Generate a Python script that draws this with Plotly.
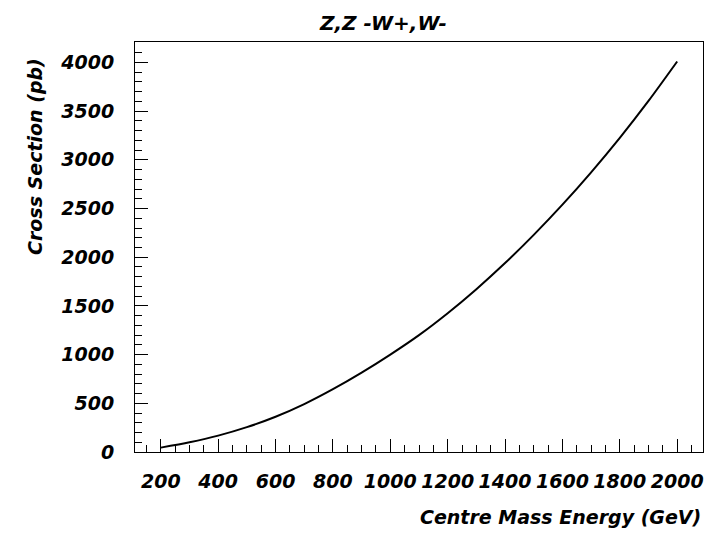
import plotly.graph_objects as go

energy = [200, 300, 400, 500, 600, 700, 800, 900, 1000, 1100, 1200, 1300, 1400,
          1500, 1600, 1700, 1800, 1900, 2000]
xsec = [45, 100, 168, 255, 362, 492, 645, 815, 1000, 1200, 1425, 1672, 1940,
        2230, 2540, 2872, 3226, 3605, 4010]

title_text = "Z,Z -W+,W-"
xtitle = "Centre Mass Energy (GeV)"
ytitle = "Cross Section (pb)"

FONT = "DejaVu Sans"
tickfont = dict(family=FONT, size=19, color="black", weight="bold", style="italic")
titlefont = dict(family=FONT, size=19, color="black", weight="bold", style="italic")

fig = go.Figure()
fig.add_trace(go.Scatter(x=energy, y=xsec, mode="lines",
                         line=dict(color="black", width=2, shape="spline", smoothing=0.8),
                         showlegend=False, hoverinfo="skip"))

L, R, T, B = 135, 18, 42, 87
W, H = 721, 539
pw, ph = W - L - R, H - T - B

fig.update_layout(
    width=W, height=H,
    margin=dict(l=L, r=R, t=T, b=B, pad=0),
    paper_bgcolor="white", plot_bgcolor="white",
    xaxis=dict(range=[110, 2090], tick0=200, dtick=200, ticks="inside", ticklen=13,
               tickwidth=1, tickcolor="black", showgrid=False, zeroline=False,
               showline=True, linecolor="black", linewidth=1, mirror=True,
               tickfont=tickfont, ticklabelstandoff=12,
               minor=dict(dtick=50, tick0=0, ticks="inside", ticklen=7,
                          tickcolor="black", tickwidth=1, showgrid=False)),
    yaxis=dict(range=[0, 4210], tick0=0, dtick=500, ticks="inside", ticklen=13,
               tickwidth=1, tickcolor="black", showgrid=False, zeroline=False,
               showline=True, linecolor="black", linewidth=1, mirror=True,
               tickfont=tickfont, ticklabelstandoff=16,
               minor=dict(dtick=100, tick0=0, ticks="inside", ticklen=7,
                          tickcolor="black", tickwidth=1, showgrid=False)),
    annotations=[
        dict(text=title_text, xref="paper", yref="paper",
             x=(383 - L) / pw, y=(H - B - 23) / ph, xanchor="center", yanchor="middle",
             showarrow=False, font=dict(family=FONT, size=20, color="black",
                                        weight="bold", style="italic")),
        dict(text=xtitle, xref="paper", yref="paper",
             x=1.0, y=(H - B - 517) / ph, xanchor="right", yanchor="middle",
             showarrow=False, font=titlefont),
        dict(text=ytitle, xref="paper", yref="paper", textangle=-90,
             x=(35 - L) / pw, y=(H - B - 157) / ph, xanchor="center", yanchor="middle",
             showarrow=False, font=titlefont),
    ],
)

fig.write_html("out.html")
